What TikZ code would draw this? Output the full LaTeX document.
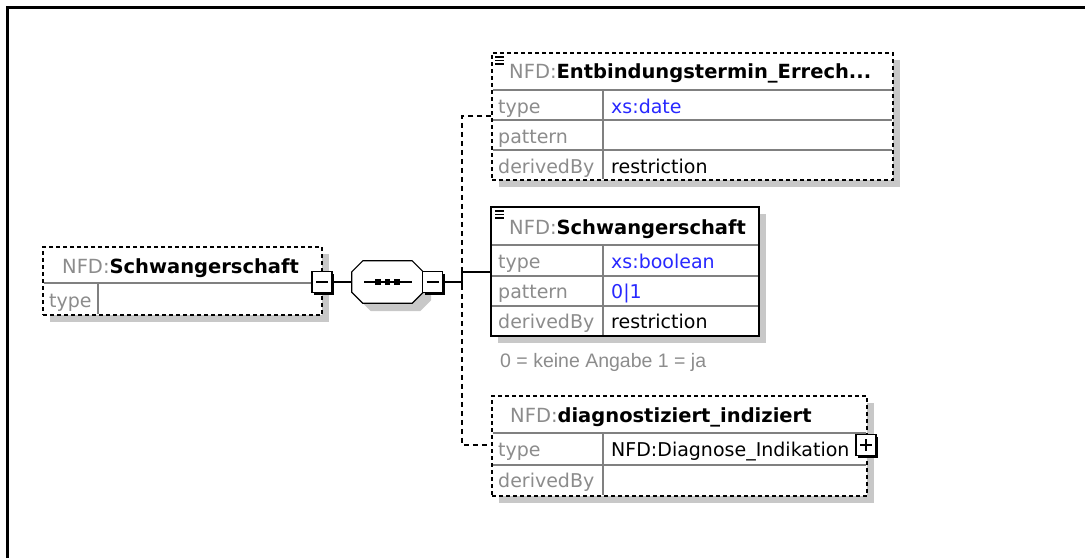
\documentclass[tikz,border=0pt]{standalone}
\usepackage{fontspec}
\setmainfont{DejaVu Sans}
\newfontfamily\notefont{Liberation Sans}
\usetikzlibrary{shadows}
\definecolor{labelgray}{RGB}{140,140,140}
\definecolor{valblue}{RGB}{40,40,255}
\definecolor{shadowgray}{RGB}{200,200,200}
\definecolor{rowgray}{RGB}{128,128,128}
\newcommand{\nfd}{\textcolor{labelgray}{\mdseries NFD:}}
\tikzset{el/.style  = {rectangle, draw, fill=white, line width=1.5pt, inner sep=0pt,
                       drop shadow={shadow xshift=7pt, shadow yshift=-7pt, fill=shadowgray, opacity=1}},
           opt/.style = {dash pattern=on 4pt off 3pt},
           tg/.style  = {rectangle, draw, fill=white, line width=1.2pt, minimum width=20pt, minimum height=21pt, inner sep=0pt,
                       drop shadow={shadow xshift=2pt, shadow yshift=-2pt, fill=black, opacity=1}},
           sq/.style  = {rectangle, inner sep=0pt, minimum width=71pt, minimum height=42pt},
           oct/.style = {draw, fill=white, line width=1.2pt,
                       drop shadow={shadow xshift=8pt, shadow yshift=-8pt, fill=shadowgray, opacity=1}},
           ro/.style  = {draw=rowgray, line width=1.2pt},
           ti/.style  = {anchor=base west, inner sep=0pt, font=\fontsize{19.5}{24}\selectfont\bfseries},
           lb/.style  = {anchor=base west, inner sep=0pt, text=labelgray, font=\fontsize{19}{24}\selectfont},
           va/.style  = {anchor=base west, inner sep=0pt, font=\fontsize{19}{24}\selectfont},
           cn/.style  = {line width=1.5pt},
           oc/.style  = {line width=1.5pt, dash pattern=on 5pt off 4pt}}

\begin{document}
\begin{tikzpicture}[x=1pt, y=-1pt]
    \useasboundingbox (0,0) rectangle (1085,558);
    \draw[line width=3pt] (7.5,558) -- (7.5,7.5) -- (1085,7.5);

    \node[el, opt, minimum width=279pt, minimum height=68pt] (root) at (182.5,281) {};
    \draw[ro] (44,283) -- (321,283); \draw[ro] (98,283) -- (98,314);
    \node[ti] (rootT) at (62,273) {\nfd Schwangerschaft};
    \node[lb] (rootA) at (49,307) {type};

    \node[sq] (seq) at (387.5,282) {};
    \draw[oct] ([xshift=11pt]seq.north west) -- ([xshift=-11pt]seq.north east) -- ([yshift=-11pt]seq.north east)
        -- ([yshift=11pt]seq.south east) -- ([xshift=-11pt]seq.south east) -- ([xshift=11pt]seq.south west)
        -- ([yshift=11pt]seq.south west) -- ([yshift=-11pt]seq.north west) -- cycle;
    \draw[cn] (364,282) -- (412,282);
    \foreach \dx in {-9.5,0,9.5}
        \fill ([xshift=\dx pt]seq.center) +(-2.8,-2.8) rectangle +(2.8,2.8);

    \node[tg] (m1) at (322,282) {}; \node[tg] (m2) at (432.5,282) {};
    \draw[cn] (m1) -- (seq);
    \foreach \m in {m1,m2}
        \draw[line width=1.5pt] ([xshift=-6pt]\m.center) -- ([xshift=6pt]\m.center);

    \node[el, opt, minimum width=401pt, minimum height=127pt] (ent) at (692.5,116.5) {};
    \draw[ro] (493,90) -- (892,90); \draw[ro] (493,120) -- (892,120); \draw[ro] (493,150) -- (892,150);
    \draw[ro] (603,90) -- (603,179);
    \node[ti] (entT) at (509,78) {\nfd Entbindungstermin\_Errech...};
    \node[lb] (entA) at (498,113) {type};      \node[va, text=valblue] (entV) at (611,113) {xs:date};
    \node[lb] (entB) at (498,143) {pattern};
    \node[lb] (entC) at (498,173) {derivedBy}; \node[va] (entW) at (611,173) {restriction};

    \node[el, line width=2.2pt, minimum width=268pt, minimum height=129pt] (sch) at (625,271.5) {};
    \draw[ro] (492,245) -- (758,245); \draw[ro] (492,276) -- (758,276); \draw[ro] (492,306) -- (758,306);
    \draw[ro] (603,245) -- (603,335);
    \node[ti] (schT) at (509,234) {\nfd Schwangerschaft};
    \node[lb] (schA) at (498,268) {type};      \node[va, text=valblue] (schV) at (611,268) {xs:boolean};
    \node[lb] (schB) at (498,298) {pattern};   \node[va, text=valblue] (schP) at (611,298) {0|1};
    \node[lb] (schC) at (498,328) {derivedBy}; \node[va] (schW) at (611,328) {restriction};
    \node[lb, font=\notefont\fontsize{19.5}{22}\selectfont] (note) at (500,367) {0 = keine Angabe 1 = ja};

    \node[el, opt, minimum width=375pt, minimum height=100pt] (dia) at (679.5,446) {};
    \draw[ro] (493,433) -- (866,433); \draw[ro] (493,465) -- (866,465);
    \draw[ro] (603,433) -- (603,495);
    \node[ti] (diaT) at (510,422) {\nfd diagnostiziert\_indiziert};
    \node[lb] (diaA) at (498,456) {type};      \node[va] (diaV) at (611,456) {NFD:Diagnose\_Indikation};
    \node[lb] (diaB) at (498,487) {derivedBy};
    \node[tg] (p1) at (866,445) {};
    \draw[line width=1.5pt] ([xshift=-6pt]p1.center) -- ([xshift=6pt]p1.center)
                            ([yshift=-6pt]p1.center) -- ([yshift=6pt]p1.center);

    \foreach \b/\y in {ent/57,sch/211}
        \foreach \k in {0,3.5,7}
            \draw[line width=1.3pt] (495,\y+\k) -- (504,\y+\k);

    \coordinate (fork) at (462,282);
    \coordinate (forkS) at (462,272);
    \coordinate (forkE) at (462,116);
    \coordinate (forkD) at (462,445);
    \draw[cn] (m2) -- (fork);
    \draw[cn] (462,267) -- (462,287);
    \draw[cn] (forkS) -- (forkS -| sch.west);
    \draw[oc] (forkE -| ent.west) -- (forkE) -- (forkD) -- (forkD -| dia.west);
\end{tikzpicture}
\end{document}
